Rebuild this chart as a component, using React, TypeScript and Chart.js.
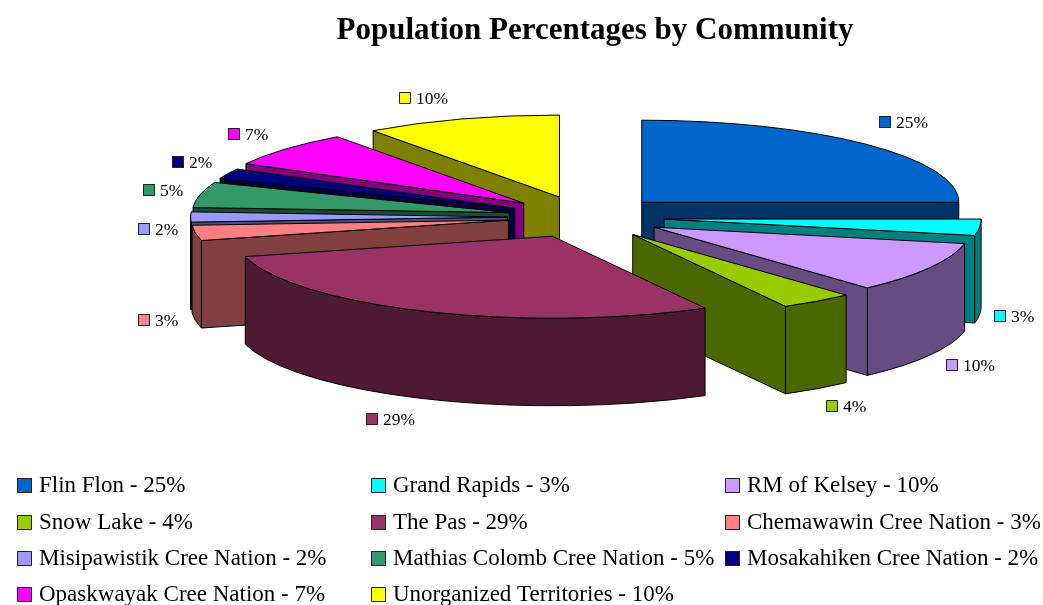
import React, { useEffect, useRef } from "react";
import { Chart, registerables } from "chart.js";

Chart.register(...registerables);

const communities = ["Flin Flon", "Grand Rapids", "RM of Kelsey", "Snow Lake", "The Pas", "Chemawawin Cree Nation", "Misipawistik Cree Nation", "Mathias Colomb Cree Nation", "Mosakahiken Cree Nation", "Opaskwayak Cree Nation", "Unorganized Territories"];
const percentages = [25, 3, 10, 4, 29, 3, 2, 5, 2, 7, 10];
// unrounded shares estimated from the slice edges in the picture
const shares = [25, 3.2, 10.05, 3.75, 29, 3, 2, 5, 2, 7, 10];
const topColors = ["#0066CC", "#00FFFF", "#CC99FF", "#99CC00", "#993366", "#FF8080", "#9999FF", "#339966", "#000080", "#FF00FF", "#FFFF00"];
const wallColors = ["#003366", "#008080", "#664C80", "#4C6600", "#4D1933", "#804040", "#4D4D80", "#1A4D33", "#000040", "#800080", "#808000"];
const sliceExplode = [81, 80, 80, 83, 81, 77, 77, 77, 77, 81, 81];
const labelNudgeX = [13, 15, 16, 9, -60, -57, -53, -57, -56, -58, -63];
const labelNudgeY = [-22, 89, 97, 105, 108, 87, 12, -5, -12, -15, -21];

const FONT = '"Liberation Serif", serif';
const view = { cx: 584.5, cy: 217, squash: 0.2587, depth: 87.5 };
const legendCols = [17, 371, 725];
const legendRows = [485, 522, 558, 594];

const pie3d = {
  id: "pie3d",
  beforeDatasetsDraw(chart: any) {
    const ctx = chart.ctx;
    const arcs: any[] = chart.getDatasetMeta(0).data;
    const { cx, cy, squash: k, depth } = view;
    const order = arcs.map((_, i) => i).sort((a, b) => {
      const ma = (arcs[a].startAngle + arcs[a].endAngle) / 2;
      const mb = (arcs[b].startAngle + arcs[b].endAngle) / 2;
      return Math.sin(ma) - Math.sin(mb);
    });
    ctx.save();
    ctx.lineWidth = 1;
    ctx.strokeStyle = "#000";
    ctx.lineJoin = "round";
    for (const i of order) {
      const arc = arcs[i];
      const s = arc.startAngle, e = arc.endAngle, r = arc.outerRadius;
      const mid = (s + e) / 2;
      const px = cx + Math.cos(mid) * sliceExplode[i];
      const py = cy + Math.sin(mid) * sliceExplode[i] * k;
      const rim = (a: number) => [px + Math.cos(a) * r, py + Math.sin(a) * r * k];
      ctx.fillStyle = wallColors[i];
      const faces: number[] = [];
      if (Math.cos(s) < 0) faces.push(s);
      if (Math.cos(e) > 0) faces.push(e);
      for (const a of faces) {
        const [x, y] = rim(a);
        ctx.beginPath();
        ctx.moveTo(px, py);
        ctx.lineTo(x, y);
        ctx.lineTo(x, y + depth);
        ctx.lineTo(px, py + depth);
        ctx.closePath();
        ctx.fill();
        ctx.stroke();
      }
      const a1 = Math.max(s, 0), a2 = Math.min(e, Math.PI);
      if (a2 > a1) {
        ctx.beginPath();
        ctx.ellipse(px, py, r, r * k, 0, a1, a2);
        ctx.ellipse(px, py + depth, r, r * k, 0, a2, a1, true);
        ctx.closePath();
        ctx.fill();
        ctx.stroke();
      }
      ctx.save();
      ctx.translate(px, py);
      ctx.scale(1, k);
      ctx.translate(-arc.x, -arc.y);
      arc.draw(ctx);
      ctx.restore();
      ctx.beginPath();
      ctx.moveTo(px, py);
      ctx.ellipse(px, py, r, r * k, 0, s, e);
      ctx.closePath();
      ctx.stroke();
    }
    // value labels with their keys
    ctx.textBaseline = "middle";
    ctx.textAlign = "left";
    arcs.forEach((arc, i) => {
      const mid = (arc.startAngle + arc.endAngle) / 2;
      const px = cx + Math.cos(mid) * sliceExplode[i];
      const py = cy + Math.sin(mid) * sliceExplode[i] * k;
      const x = Math.round(px + Math.cos(mid) * arc.outerRadius + labelNudgeX[i]);
      const y = Math.round(py + Math.sin(mid) * arc.outerRadius * k + labelNudgeY[i]);
      ctx.fillStyle = topColors[i];
      ctx.strokeStyle = "#222";
      ctx.fillRect(x, y - 6, 12, 12);
      ctx.strokeRect(x + 0.5, y - 5.5, 11, 11);
      ctx.fillStyle = "#000";
      ctx.font = `17.5px ${FONT}`;
      ctx.fillText(`${percentages[i]}%`, x + 17, y + 1);
    });
    // legend
    ctx.font = `23px ${FONT}`;
    communities.forEach((name, i) => {
      const x = legendCols[i % legendCols.length];
      const y = legendRows[Math.floor(i / legendCols.length)];
      ctx.fillStyle = topColors[i];
      ctx.strokeStyle = "#222";
      ctx.fillRect(x, y - 7, 15, 15);
      ctx.strokeRect(x + 0.5, y - 6.5, 14, 14);
      ctx.fillStyle = "#000";
      ctx.fillText(`${name} - ${percentages[i]}%`, x + 22, y + 1);
    });
    ctx.restore();
    return false;
  },
};

export default function App() {
  const ref = useRef<HTMLCanvasElement>(null);
  useEffect(() => {
    const chart = new Chart(ref.current!, {
      type: "pie",
      data: {
        labels: communities,
        datasets: [{ data: shares, backgroundColor: topColors, borderWidth: 0, offset: 0 }],
      },
      options: {
        responsive: false,
        animation: false,
        radius: 317,
        events: [],
        layout: { padding: { left: 147 } },
        plugins: {
          legend: { display: false },
          tooltip: { enabled: false },
          title: {
            display: true,
            text: "Population Percentages by Community",
            color: "#000",
            font: { family: FONT, size: 31, weight: "bold" },
            padding: { top: 12, bottom: 6 },
          },
        },
      },
      plugins: [pie3d],
    } as any);
    return () => chart.destroy();
  }, []);
  return (
    <div style={{ position: "absolute", left: 0, top: 0, width: 1043, height: 605, overflow: "hidden", background: "#fff" }}>
      <canvas ref={ref} width={1043} height={605} style={{ display: "block" }} />
    </div>
  );
}
